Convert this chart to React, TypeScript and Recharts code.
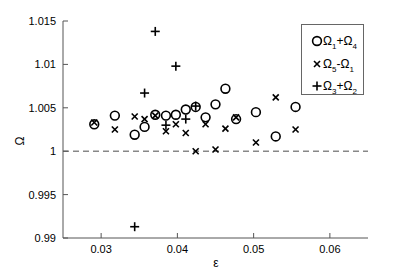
import React from 'react';
import {
  ScatterChart,
  Scatter,
  XAxis,
  YAxis,
  ReferenceLine,
  Legend
} from 'recharts';

// epsilon values shared by the circle and cross series
const eps = [0.0291, 0.0318, 0.0344, 0.0357, 0.0371, 0.0385, 0.0398, 0.0411, 0.0424, 0.0437, 0.045, 0.0463, 0.0477, 0.0503, 0.0529, 0.0555];
const omega14 = [1.0031, 1.0041, 1.0019, 1.0028, 1.0042, 1.0041, 1.0042, 1.0048, 1.0051, 1.0039, 1.0054, 1.0072, 1.0037, 1.0045, 1.0017, 1.0051];
const omega51 = [1.0033, 1.0025, 1.004, 1.0037, 1.0041, 1.0023, 1.0031, 1.0021, 1.0, 1.0031, 1.0002, 1.0026, 1.0039, 1.001, 1.0062, 1.0025];
const plusEps = [0.0344, 0.0357, 0.0371, 0.0385, 0.0398, 0.0411, 0.0424];
const omega32 = [0.9913, 1.0067, 1.0138, 1.003, 1.0098, 1.0037, 1.0052];

const xTicks = [0.03, 0.04, 0.05, 0.06];
const yTicks = [0.99, 0.995, 1, 1.005, 1.01, 1.015];

const circleData = eps.map((e, i) => ({ x: e, y: omega14[i] }));
const crossData = eps.map((e, i) => ({ x: e, y: omega51[i] }));
const plusData = plusEps.map((e, i) => ({ x: e, y: omega32[i] }));

const FONT = 'Liberation Sans, Arial, sans-serif';
const AXIS = '#555';

const CircleMark = (p: any) => (
  <circle cx={p.cx} cy={p.cy} r={4.4} fill="none" stroke="#000" strokeWidth={1.6} />
);
const CrossMark = (p: any) => (
  <g stroke="#000" strokeWidth={1.6}>
    <line x1={p.cx - 3} y1={p.cy - 3} x2={p.cx + 3} y2={p.cy + 3} />
    <line x1={p.cx - 3} y1={p.cy + 3} x2={p.cx + 3} y2={p.cy - 3} />
  </g>
);
const PlusMark = (p: any) => (
  <g stroke="#000" strokeWidth={1.6}>
    <line x1={p.cx - 4.5} y1={p.cy} x2={p.cx + 4.5} y2={p.cy} />
    <line x1={p.cx} y1={p.cy - 4.5} x2={p.cx} y2={p.cy + 4.5} />
  </g>
);

const sub = { fontSize: 8, position: 'relative' as const, top: 4 };

const legendRows = [
  { mark: 'circle', a: '1', op: '+', b: '4' },
  { mark: 'cross', a: '5', op: '-', b: '1' },
  { mark: 'plus', a: '3', op: '+', b: '2' }
];

const LegendBox = () => (
  <div
    style={{
      width: 63,
      height: 71,
      boxSizing: 'border-box',
      border: '1px solid #666',
      background: '#fff',
      fontFamily: FONT,
      fontSize: 12,
      color: '#000',
      paddingTop: 5
    }}
  >
    {legendRows.map((r) => (
      <div key={r.mark} style={{ height: 22.5, display: 'flex', alignItems: 'center' }}>
        <svg width={21} height={14} style={{ flex: 'none' }}>
          {r.mark === 'circle' && <CircleMark cx={15} cy={7} />}
          {r.mark === 'cross' && <CrossMark cx={15} cy={7} />}
          {r.mark === 'plus' && <PlusMark cx={15} cy={7} />}
        </svg>
        <span style={{ whiteSpace: 'nowrap' }}>
          Ω<span style={sub}>{r.a}</span>{r.op}Ω<span style={sub}>{r.b}</span>
        </span>
      </div>
    ))}
  </div>
);

const fmt = (v: number) => String(+v.toFixed(3));

export default function App() {
  return (
    <div style={{ position: 'absolute', left: 0, top: 0, background: '#fff' }}>
      <ScatterChart
        width={407}
        height={272}
        margin={{ top: 21, right: 39, left: 0, bottom: 0 }}
      >
        <XAxis
          type="number"
          dataKey="x"
          domain={[0.025, 0.065]}
          ticks={xTicks}
          tickFormatter={fmt}
          height={34}
          tickSize={-5}
          tickMargin={12}
          stroke={AXIS}
          tick={{ fill: '#000', fontSize: 11, fontFamily: FONT }}
          allowDataOverflow
          label={{
            content: () => (
              <text x={216} y={267} textAnchor="middle" fontSize={12} fontFamily={FONT} fill="#000">ε</text>
            )
          }}
        />
        <XAxis
          xAxisId="top"
          orientation="top"
          type="number"
          domain={[0.025, 0.065]}
          ticks={xTicks}
          tickFormatter={() => ''}
          height={0}
          tickSize={-5}
          stroke={AXIS}
          allowDataOverflow
        />
        <YAxis
          type="number"
          dataKey="y"
          domain={[0.99, 1.015]}
          ticks={yTicks}
          tickFormatter={fmt}
          width={63}
          tickSize={-5}
          tickMargin={12}
          stroke={AXIS}
          tick={{ fill: '#000', fontSize: 11, fontFamily: FONT }}
          allowDataOverflow
          label={{
            content: () => (
              <text x={24} y={141} textAnchor="middle" fontSize={12} fontFamily={FONT} fill="#000" transform="rotate(-90 24 141)">Ω</text>
            )
          }}
        />
        <YAxis
          yAxisId="right"
          orientation="right"
          type="number"
          domain={[0.99, 1.015]}
          ticks={yTicks}
          tickFormatter={() => ''}
          width={0}
          tickSize={-5}
          stroke={AXIS}
          allowDataOverflow
        />
        <ReferenceLine y={1} stroke="#888" strokeWidth={1.5} strokeDasharray="6 4" />
        <Scatter name="Ω1+Ω4" data={circleData} shape={CircleMark} isAnimationActive={false} />
        <Scatter name="Ω5-Ω1" data={crossData} shape={CrossMark} isAnimationActive={false} />
        <Scatter name="Ω3+Ω2" data={plusData} shape={PlusMark} isAnimationActive={false} />
        <Legend
          layout="horizontal"
          verticalAlign="middle"
          align="center"
          content={() => <LegendBox />}
          wrapperStyle={{ position: 'absolute', left: 301, top: 24, width: 63, height: 71 }}
        />
      </ScatterChart>
    </div>
  );
}
